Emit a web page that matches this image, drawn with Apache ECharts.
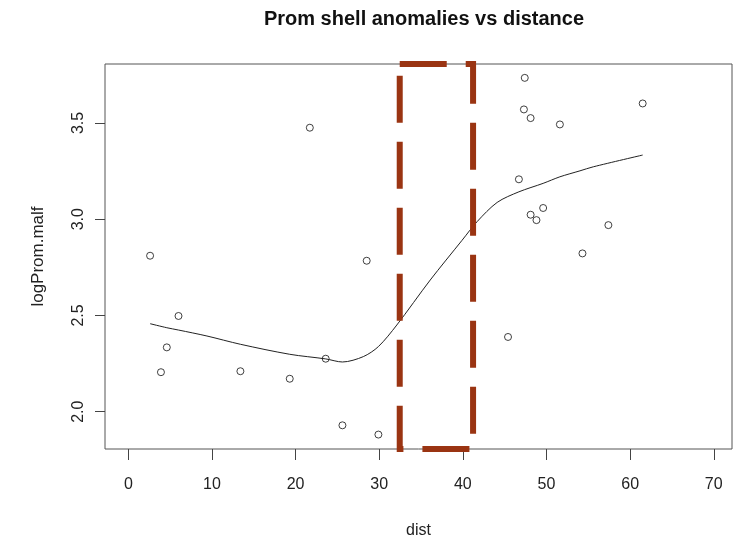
<!DOCTYPE html>
<html lang="en">
<head>
    <meta charset="UTF-8">
    <title>Prom shell anomalies vs distance</title>
    <script src="https://cdn.jsdelivr.net/npm/echarts@6/dist/echarts.min.js"></script>
    <style>
        html, body { margin: 0; padding: 0; background: #fff; }
        #main { width: 740px; height: 541px; }
    </style>
</head>
<body>
    <div id="main"></div>
    <script>
        // observed points
        let dist = [2.6, 3.9, 4.6, 6.0, 13.4, 19.3, 21.7, 23.6, 25.6, 28.5, 29.9,
            45.4, 46.7, 47.3, 47.4, 48.1, 48.1, 48.8, 49.6, 51.6, 54.3, 57.4, 61.5]
        let logProm = [2.81, 2.205, 2.334, 2.497, 2.21, 2.171, 3.475, 2.275, 1.929, 2.784, 1.881,
            2.388, 3.207, 3.570, 3.734, 3.525, 3.023, 2.995, 3.058, 3.492, 2.822, 2.969, 3.601]

        // loess smooth
        let smoothX = [2.6, 4.6, 6.0, 9.4, 13.4, 19.3, 23.6, 25.6, 28.1, 29.9, 32.1,
            36.1, 39.9, 41.7, 44.1, 46.7, 49.6, 51.6, 54.0, 55.6, 61.5]
        let smoothY = [2.457, 2.436, 2.424, 2.393, 2.350, 2.298, 2.274, 2.258, 2.286, 2.338, 2.45,
            2.684, 2.89, 2.987, 3.087, 3.142, 3.186, 3.22, 3.251, 3.272, 3.333]

        // highlighted dist band
        let bandDist = [32.45, 41.22]

        // axes
        let xRange = [-2.79, 72.18]
        let yRange = [1.806, 3.806]
        let xTicks = [0, 10, 20, 30, 40, 50, 60, 70]
        let yTicks = [2.0, 2.5, 3.0, 3.5]

        let points = dist.map((d, i) => [d, logProm[i]])
        let smooth = smoothX.map((d, i) => [d, smoothY[i]])
        let band = [
            [bandDist[0], yRange[1]],
            [bandDist[1], yRange[1]],
            [bandDist[1], yRange[0]],
            [bandDist[0], yRange[0]],
            [bandDist[0], yRange[1]]
        ]

        let font = 'Liberation Sans, Arial, sans-serif'
        let chart = echarts.init(document.getElementById('main'), null, {renderer: 'canvas'})
        let option = {
            animation: false,
            backgroundColor: '#fff',
            title: {
                text: 'Prom shell anomalies vs distance',
                left: 419,
                top: 4,
                textAlign: 'center',
                textStyle: {fontFamily: font, fontSize: 20, fontWeight: 'bold', color: '#111'}
            },
            grid: {
                left: 105, right: 8, top: 64, bottom: 92,
                outerBoundsMode: 'none',
                containLabel: false,
                show: true, borderColor: '#555', borderWidth: 1, backgroundColor: 'transparent'
            },
            xAxis: {
                type: 'value',
                min: xRange[0],
                max: xRange[1],
                name: 'dist',
                nameLocation: 'middle',
                nameGap: 74,
                nameTextStyle: {fontFamily: font, fontSize: 16, color: '#222'},
                axisLine: {show: false, onZero: false},
                splitLine: {show: false},
                axisTick: {show: true, length: 11, lineStyle: {color: '#444'}, customValues: xTicks},
                axisLabel: {fontFamily: font, fontSize: 16, color: '#222', margin: 28, customValues: xTicks}
            },
            yAxis: {
                type: 'value',
                min: yRange[0],
                max: yRange[1],
                name: 'logProm.malf',
                nameLocation: 'middle',
                nameGap: 58,
                nameTextStyle: {fontFamily: font, fontSize: 17, color: '#222'},
                axisLine: {show: false, onZero: false},
                splitLine: {show: false},
                axisTick: {show: true, length: 10, lineStyle: {color: '#444'}, customValues: yTicks},
                axisLabel: {
                    fontFamily: font, fontSize: 16, color: '#222', margin: 18, rotate: 90,
                    customValues: yTicks,
                    formatter: v => v.toFixed(1)
                }
            },
            series: [
                {
                    type: 'scatter',
                    data: points,
                    symbol: 'circle',
                    symbolSize: 7,
                    itemStyle: {color: 'rgba(0,0,0,0)', borderColor: '#111', borderWidth: 1}
                },
                {
                    type: 'line',
                    data: smooth,
                    smooth: 0.3,
                    showSymbol: false,
                    lineStyle: {color: '#222', width: 1}
                },
                {
                    type: 'line',
                    data: band,
                    showSymbol: false,
                    clip: false,
                    z: 5,
                    lineStyle: {color: '#9a3412', width: 6, type: [47, 19], cap: 'butt', join: 'miter'}
                }
            ]
        }
        chart.setOption(option)
    </script>
</body>
</html>
